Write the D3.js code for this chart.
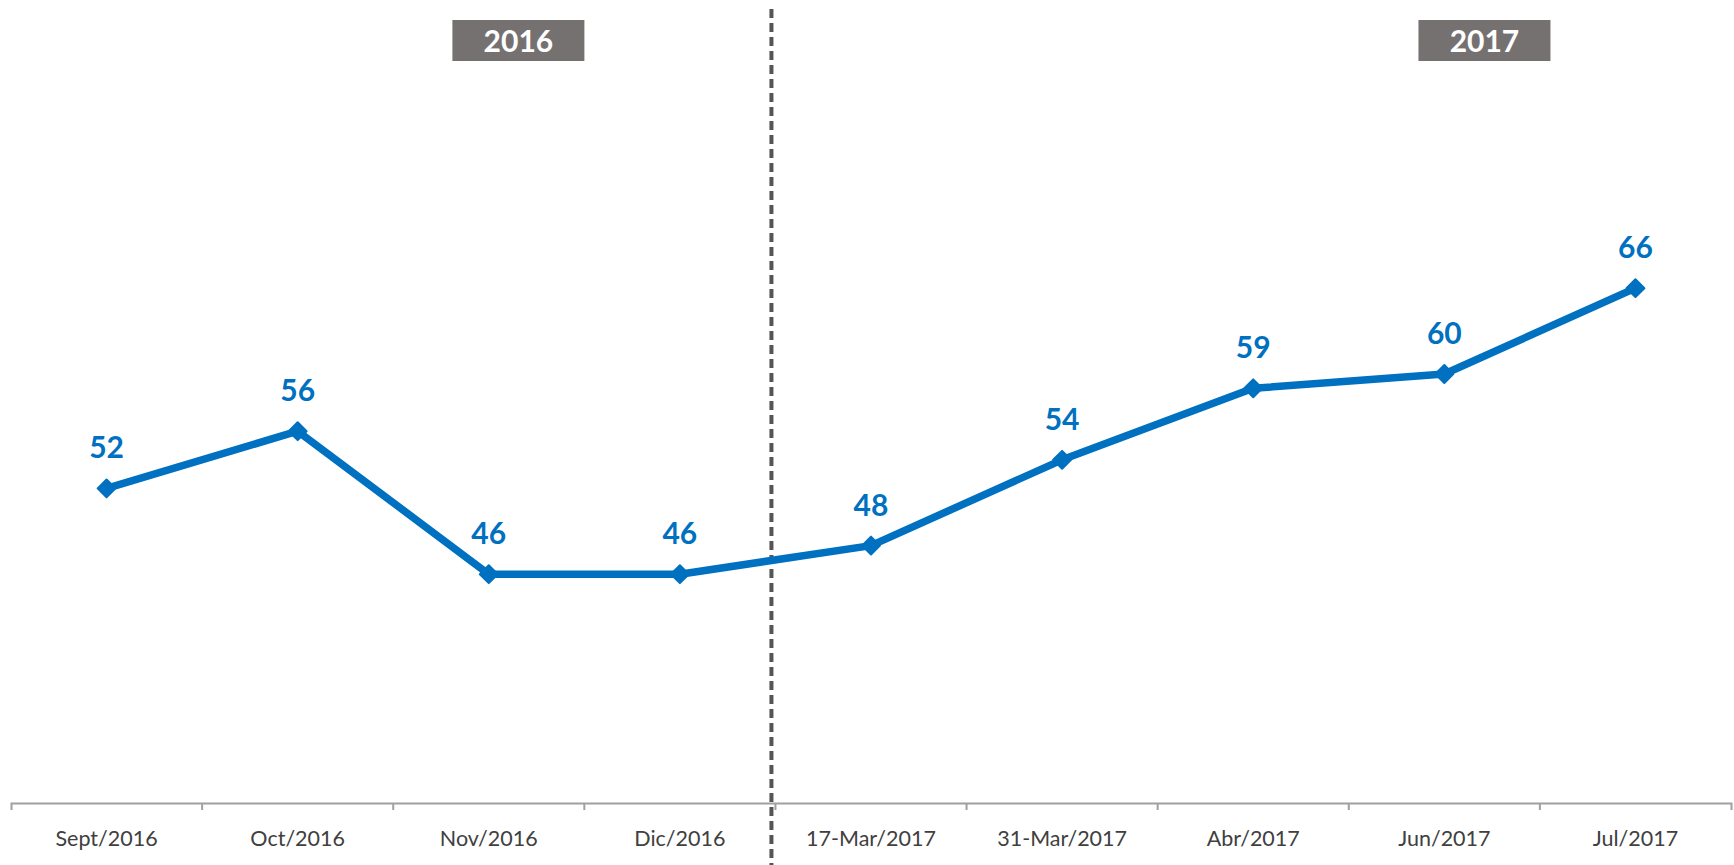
<!DOCTYPE html>
<html>
<head>
<meta charset="utf-8">
<script src="https://cdn.jsdelivr.net/npm/d3@7"></script>
<style>
  body { margin: 0; background: #fff; }
  svg { display: block; }
</style>
</head>
<body>
<script>
// Data
const CATEGORIES = ['Sept/2016', 'Oct/2016', 'Nov/2016', 'Dic/2016', '17-Mar/2017', '31-Mar/2017', 'Abr/2017', 'Jun/2017', 'Jul/2017']
const VALUES = [52, 56, 46, 46, 48, 54, 59, 60, 66]
const YEARS = ['2016', '2017']

const width = 1734
const height = 865
const BLUE = '#0070C0'

const svg = d3.select('body').append('svg')
  .attr('width', width)
  .attr('height', height)

// Scales
const x = d3.scaleBand()
  .domain(CATEGORIES)
  .range([11, 1731])
  .padding(0)

const y = d3.scaleLinear()
  .domain([30, 80])
  .range([803, 88])

const cx = d => x(d) + x.bandwidth() / 2

// Axis (labels only, boundary ticks drawn below)
const axis = svg.append('g')
  .attr('transform', `translate(0,${y(30)})`)
  .call(d3.axisBottom(x).tickSizeInner(0).tickSizeOuter(7).tickPadding(28))

axis.select('.domain')
  .attr('stroke', '#a0a0a0')
  .attr('stroke-width', 2)

axis.selectAll('text')
  .style('font-family', 'Lato, sans-serif')
  .style('font-size', '21.5px')
  .attr('fill', '#404040')

axis.selectAll('.boundary')
  .data(CATEGORIES.slice(1))
  .enter()
  .append('line')
  .attr('class', 'boundary')
  .attr('x1', d => x(d))
  .attr('x2', d => x(d))
  .attr('y1', 0)
  .attr('y2', 7)
  .attr('stroke', '#a0a0a0')
  .attr('stroke-width', 2)

// Year divider
const divX = x(CATEGORIES[4]) - 4
svg.append('line')
  .attr('x1', divX)
  .attr('x2', divX)
  .attr('y1', 9)
  .attr('y2', height)
  .attr('stroke', '#555')
  .attr('stroke-width', 4)
  .attr('stroke-dasharray', '9 5')

// Year boxes
const yearCenters = [x(CATEGORIES[2]) + 0.655 * x.bandwidth(), x(CATEGORIES[7]) + 0.71 * x.bandwidth()]
const yearG = svg.selectAll('.year')
  .data(YEARS)
  .enter()
  .append('g')
  .attr('class', 'year')
  .attr('transform', (_, i) => `translate(${yearCenters[i]},0)`)

yearG.append('rect')
  .attr('x', -66)
  .attr('y', 20)
  .attr('width', 132)
  .attr('height', 41)
  .attr('fill', '#767171')

yearG.append('text')
  .attr('y', 52)
  .attr('text-anchor', 'middle')
  .style('font-family', 'Lato, sans-serif')
  .style('font-weight', 'bold')
  .style('font-size', '30px')
  .attr('fill', '#fff')
  .text(d => d)

// Line
const line = d3.line()
  .x((_, i) => cx(CATEGORIES[i]))
  .y(d => y(d))

svg.append('path')
  .datum(VALUES)
  .attr('d', line)
  .attr('fill', 'none')
  .attr('stroke', BLUE)
  .attr('stroke-width', 7.5)
  .attr('stroke-linejoin', 'round')

// Markers
svg.selectAll('.marker')
  .data(VALUES)
  .enter()
  .append('path')
  .attr('class', 'marker')
  .attr('d', d3.symbol(d3.symbolSquare, 160))
  .attr('transform', (d, i) => `translate(${cx(CATEGORIES[i])},${y(d)}) rotate(45)`)
  .attr('fill', BLUE)
  .attr('stroke', BLUE)
  .attr('stroke-width', 2)
  .attr('stroke-linejoin', 'round')

// Value labels
svg.selectAll('.label')
  .data(VALUES)
  .enter()
  .append('text')
  .attr('class', 'label')
  .attr('x', (_, i) => cx(CATEGORIES[i]))
  .attr('y', d => y(d) - 30)
  .attr('text-anchor', 'middle')
  .style('font-family', 'Lato, sans-serif')
  .style('font-weight', 'bold')
  .style('font-size', '30px')
  .attr('fill', BLUE)
  .text(d => d)
</script>
</body>
</html>
